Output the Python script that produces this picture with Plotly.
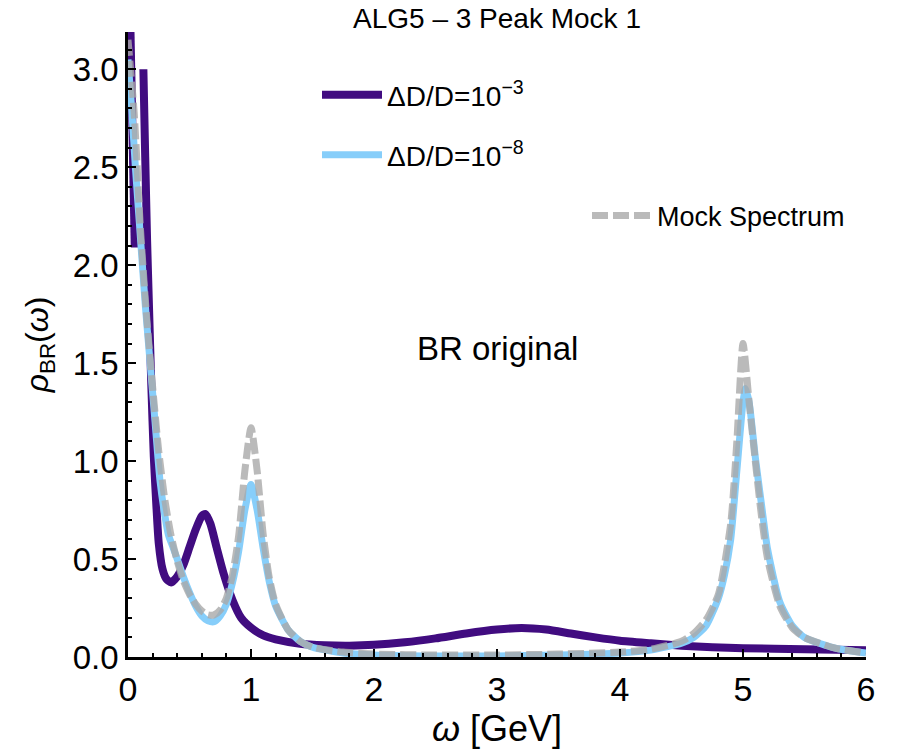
import plotly.graph_objects as go

# ---- data ----
omega_mock = [0.0, 0.05, 0.1, 0.15, 0.2, 0.25, 0.3, 0.35, 0.4, 0.45, 0.5, 0.55, 0.6, 0.65, 0.7,
              0.75, 0.8, 0.85, 0.9, 0.95, 1.0, 1.05, 1.1, 1.15, 1.2, 1.3, 1.4, 1.5, 1.75, 2.0,
              2.5, 3.0, 3.5, 4.0, 4.25, 4.5, 4.6, 4.7, 4.8, 4.9, 4.95, 5.0, 5.05, 5.1, 5.15,
              5.2, 5.3, 5.4, 5.5, 5.75, 6.0]
rho_mock = [3.15, 2.78, 2.2, 1.75, 1.38, 1.05, 0.8, 0.62, 0.49, 0.39, 0.32, 0.27, 0.235, 0.215, 0.215,
            0.24, 0.3, 0.42, 0.62, 0.95, 1.17, 0.95, 0.62, 0.4, 0.27, 0.14, 0.08, 0.05, 0.025, 0.015,
            0.01, 0.01, 0.015, 0.025, 0.04, 0.08, 0.12, 0.19, 0.32, 0.68, 1.1, 1.6, 1.3, 1.0, 0.72,
            0.5, 0.26, 0.15, 0.1, 0.045, 0.02]

omega_d8 = [0.0, 0.03, 0.06, 0.1, 0.14, 0.18, 0.22, 0.26, 0.3, 0.33, 0.36, 0.4, 0.45, 0.5, 0.55,
            0.6, 0.65, 0.7, 0.75, 0.8, 0.85, 0.9, 0.95, 1.0, 1.05, 1.1, 1.15, 1.2, 1.3, 1.4,
            1.5, 1.75, 2.0, 2.5, 3.0, 3.5, 4.0, 4.25, 4.5, 4.6, 4.7, 4.8, 4.85, 4.9, 4.95,
            5.0, 5.02, 5.05, 5.1, 5.15, 5.2, 5.3, 5.4, 5.5, 5.75, 6.0]
rho_d8 = [3.05, 2.8, 2.5, 2.15, 1.8, 1.5, 1.2, 0.9, 0.72, 0.62, 0.57, 0.5, 0.41, 0.33, 0.26,
          0.21, 0.185, 0.18, 0.21, 0.27, 0.38, 0.54, 0.75, 0.88, 0.75, 0.55, 0.38, 0.26, 0.14, 0.08,
          0.05, 0.02, 0.01, 0.005, 0.005, 0.01, 0.02, 0.035, 0.07, 0.1, 0.16, 0.3, 0.42, 0.6, 0.95,
          1.3, 1.37, 1.3, 1.02, 0.78, 0.55, 0.28, 0.16, 0.1, 0.045, 0.02]

omega_d3 = [0.02, 0.055, None, 0.125, 0.14, 0.155, 0.17, 0.19, 0.21, 0.23, 0.25, 0.28, 0.31, 0.35,
            0.4, 0.45, 0.5, 0.55, 0.6, 0.63, 0.67, 0.72, 0.78, 0.85, 0.92, 1.0, 1.1, 1.2, 1.4,
            1.6, 1.8, 2.0, 2.25, 2.5, 2.75, 3.0, 3.2, 3.4, 3.6, 3.8, 4.0, 4.25, 4.5, 4.75,
            5.0, 5.5, 6.0]
rho_d3 = [3.2, 2.09, None, 3.0, 2.55, 2.13, 1.8, 1.38, 1.02, 0.78, 0.58, 0.45, 0.4, 0.38,
          0.41, 0.47, 0.56, 0.65, 0.72, 0.73, 0.68, 0.56, 0.42, 0.29, 0.2, 0.15, 0.11, 0.09, 0.068,
          0.06, 0.058, 0.062, 0.075, 0.095, 0.12, 0.14, 0.148, 0.14, 0.12, 0.1, 0.083, 0.07, 0.058, 0.05,
          0.045, 0.04, 0.035]

x_ticks = [0, 1, 2, 3, 4, 5, 6]
y_ticks = [0.0, 0.5, 1.0, 1.5, 2.0, 2.5, 3.0]

FONT = "Liberation Sans, Arial, sans-serif"
PURPLE = "#410c80"
LBLUE = "#87cefa"
GRAY = "#a9a9a9"

ML, MR, MT, MB = 128, 34, 32, 93
PW, PH = 900 - ML - MR, 750 - MT - MB


def px(xpix):
    return (xpix - ML) / PW


def py(ypix):
    return (750 - MB - ypix) / PH


fig = go.Figure()
fig.add_trace(go.Scatter(x=omega_d3, y=rho_d3, mode="lines", name="ΔD/D=10<sup>−3</sup>",
                         line=dict(color=PURPLE, width=8, shape="spline", smoothing=0.6),
                         connectgaps=False, showlegend=True, legend="legend"))
fig.add_trace(go.Scatter(x=omega_d8, y=rho_d8, mode="lines", name="ΔD/D=10<sup>−8</sup>",
                         line=dict(color=LBLUE, width=7, shape="spline", smoothing=0.6),
                         showlegend=True, legend="legend2"))
fig.add_trace(go.Scatter(x=omega_mock, y=rho_mock, mode="lines", name="Mock Spectrum",
                         line=dict(color=GRAY, width=7, dash="16px,5px", shape="spline", smoothing=0.6),
                         opacity=0.8, showlegend=True, legend="legend3"))

leg_common = dict(bgcolor="rgba(0,0,0,0)", xanchor="left", yanchor="middle", itemwidth=60)

fig.update_layout(
    width=900, height=750,
    showlegend=True,
    paper_bgcolor="white", plot_bgcolor="white",
    margin=dict(l=ML, r=MR, t=MT, b=MB, autoexpand=False),
    font=dict(family=FONT, color="black"),
    title=dict(text="ALG5 – 3 Peak Mock 1", x=497/900, xanchor="center", y=1 - 18/750, yanchor="middle",
               font=dict(family=FONT, size=28, color="black")),
    legend=dict(x=px(317), y=py(95), font=dict(family=FONT, size=28, color="black"), **leg_common),
    legend2=dict(x=px(317), y=py(155), font=dict(family=FONT, size=28, color="black"), **leg_common),
    legend3=dict(x=px(587), y=py(216), font=dict(family=FONT, size=27, color="black"), **leg_common),
    xaxis=dict(range=[0, 6], tickvals=x_ticks, ticks="inside", ticklen=8, tickwidth=2,
               tickcolor="black", showline=True, linecolor="black", linewidth=2.5,
               showgrid=False, zeroline=False,
               tickfont=dict(family=FONT, size=34, color="black"),
               minor=dict(dtick=0.2, ticks="inside", ticklen=4, tickwidth=2, tickcolor="black", showgrid=False),
               title=dict(text="<i>ω</i> [GeV]", font=dict(family=FONT, size=36, color="black"), standoff=6)),
    yaxis=dict(range=[0, 3.19], tickvals=y_ticks, tickformat=".1f", ticks="inside", ticklen=8, tickwidth=2,
               tickcolor="black", showline=True, linecolor="black", linewidth=2.5,
               showgrid=False, zeroline=False,
               tickfont=dict(family=FONT, size=33, color="black"),
               minor=dict(dtick=0.1, ticks="inside", ticklen=4, tickwidth=2, tickcolor="black", showgrid=False),
               title=dict(text="<i>ρ</i><sub>BR</sub>(<i>ω</i>)", font=dict(family=FONT, size=32, color="black"),
                          standoff=15)),
    annotations=[dict(text="BR original", x=px(497), y=py(348), xref="paper", yref="paper",
                      showarrow=False, font=dict(family=FONT, size=33, color="black"))],
)

fig.write_html("out.html")
